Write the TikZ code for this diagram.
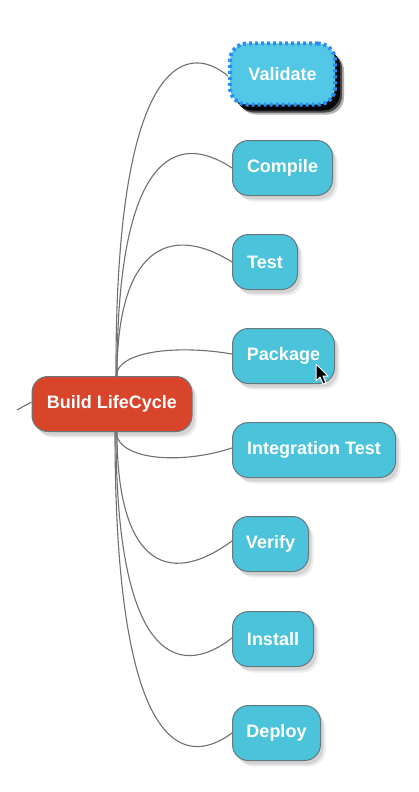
\documentclass[tikz,border=0pt]{standalone}
\usepackage{fontspec}
\setmainfont{Liberation Sans}
\usetikzlibrary{shadows}
\definecolor{cyanfill}{HTML}{4BC3DA}
\definecolor{selfill}{HTML}{52C8E6}
\definecolor{boxline}{HTML}{66787D}
\definecolor{redfill}{HTML}{D8452B}
\definecolor{linkgray}{HTML}{707070}
\definecolor{selblue}{HTML}{2C8EF5}
\tikzset{
  boxfont/.style={text=white, font=\bfseries\fontsize{18}{21}\selectfont},
  softshadow/.style={drop shadow={shadow xshift=3pt, shadow yshift=-4pt, opacity=0.10, fill=black},
    drop shadow={shadow xshift=5pt, shadow yshift=-6pt, opacity=0.07, fill=black}},
  phase/.style={boxfont, draw=boxline, line width=1pt, fill=cyanfill,
    rounded corners=16pt, minimum height=55pt, anchor=west, inner xsep=0pt, softshadow},
  selphase/.style={boxfont, draw=selblue, fill=selfill, line width=4pt, dash pattern=on 3pt off 3pt,
    rounded corners=17pt, minimum height=61pt, anchor=west, inner xsep=0pt,
    drop shadow={shadow xshift=9pt, shadow yshift=-10pt, opacity=0.3, fill=black},
    drop shadow={shadow xshift=7pt, shadow yshift=-8pt, opacity=0.6, fill=black},
    drop shadow={shadow xshift=5pt, shadow yshift=-6pt, opacity=0.9, fill=black}},
  rootbox/.style={boxfont, draw=boxline, line width=1pt, fill=redfill,
    rounded corners=16pt, minimum height=55pt, minimum width=160pt, inner xsep=0pt, softshadow},
  link/.style={draw=linkgray, line width=1.1pt},
}
\begin{document}
\begin{tikzpicture}[x=1pt,y=-1pt]
\fill[white] (0,0) rectangle (418,792);
\useasboundingbox (0,0) rectangle (418,792);

\node[rootbox] (build) at (112,404) {Build LifeCycle};

\node[selphase, minimum width=105pt] (validate) at (228,74) {Validate};
\node[phase, minimum width=100pt] (compile) at (232,168) {Compile};
\node[phase, minimum width=65pt] (test) at (232,262) {Test};
\node[phase, minimum width=102pt] (package) at (232,356) {Package};
\node[phase, minimum width=163pt] (integ) at (232,450) {Integration Test};
\node[phase, minimum width=76pt] (verify) at (232,544) {Verify};
\node[phase, minimum width=81pt] (install) at (232,639) {Install};
\node[phase, minimum width=88pt] (deploy) at (232,733) {Deploy};

\coordinate (stub) at (17,410);
\draw[link] (stub) -- ([yshift=2pt]build.west);

\draw[link] ([xshift=4pt]build.north) .. controls (115,60) and (185,40) .. ([yshift=-2pt]validate.west);
\draw[link] ([xshift=5pt]build.north) .. controls (117,156) and (175,130) .. (compile.west);
\draw[link] ([xshift=5pt]build.north) .. controls (117,250) and (168,222) .. (test.west);
\draw[link] ([xshift=4pt]build.north) .. controls (118,350) and (180,345) .. ([yshift=2pt]package.west);
\draw[link] ([xshift=4pt]build.south) .. controls (118,460) and (180,465) .. ([yshift=2pt]integ.west);
\draw[link] ([xshift=5pt]build.south) .. controls (117,560) and (165,590) .. ([yshift=3pt]verify.west);
\draw[link] ([xshift=4pt]build.south) .. controls (116,654) and (175,682) .. ([yshift=1pt]install.west);
\draw[link] ([xshift=3pt]build.south) .. controls (115,750) and (182,770) .. (deploy.west);

% mouse cursor
\begin{scope}[shift={(316,364)}]
\filldraw[fill=black, draw=white, line width=1pt, line join=round]
  (0,0) -- (0,17) -- (4,13) -- (7,20) -- (10,19) -- (7,12) -- (12,12) -- cycle;
\end{scope}
\end{tikzpicture}
\end{document}
